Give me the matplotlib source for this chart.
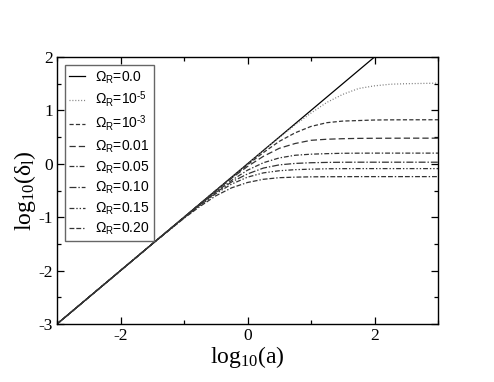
import matplotlib
matplotlib.use("Agg")
import matplotlib.pyplot as plt

plt.rcParams['mathtext.fontset'] = 'custom'
plt.rcParams['mathtext.rm'] = 'Liberation Serif'
plt.rcParams['mathtext.it'] = 'Liberation Serif:italic'
plt.rcParams['mathtext.sf'] = 'Liberation Sans'
plt.rcParams['axes.unicode_minus'] = False
plt.rcParams['lines.scale_dashes'] = False

# log10(a) sample points
log_a = [-3, -1.5, -1, -0.75, -0.5, -0.25, 0, 0.25, 0.5, 0.75, 1, 1.25, 1.5, 1.75, 2, 2.25, 2.5, 3]

# Omega_R = 0 : straight line
line_x = [-3, 3]
line_y = [-3, 3]

d_1e5 = [-3.00, -1.50, -1.00, -0.75, -0.50, -0.25, 0.00, 0.25, 0.49, 0.73, 0.95, 1.15, 1.30, 1.41, 1.46, 1.49, 1.50, 1.51]
d_1e3 = [-3.00, -1.50, -1.00, -0.75, -0.50, -0.26, -0.02, 0.21, 0.42, 0.58, 0.70, 0.77, 0.80, 0.81, 0.82, 0.823, 0.824, 0.825]
d_001 = [-3.00, -1.50, -1.00, -0.75, -0.51, -0.27, -0.05, 0.14, 0.29, 0.38, 0.44, 0.46, 0.47, 0.476, 0.478, 0.479, 0.48, 0.48]
d_005 = [-3.00, -1.50, -1.01, -0.76, -0.53, -0.31, -0.12, 0.02, 0.11, 0.16, 0.18, 0.19, 0.197, 0.199, 0.20, 0.20, 0.20, 0.20]
d_010 = [-3.00, -1.50, -1.01, -0.77, -0.54, -0.34, -0.19, -0.08, -0.02, 0.007, 0.02, 0.026, 0.029, 0.03, 0.03, 0.03, 0.03, 0.03]
d_015 = [-3.00, -1.50, -1.01, -0.78, -0.56, -0.38, -0.25, -0.17, -0.13, -0.11, -0.10, -0.093, -0.091, -0.09, -0.09, -0.09, -0.09, -0.09]
d_020 = [-3.00, -1.50, -1.02, -0.80, -0.60, -0.45, -0.35, -0.29, -0.26, -0.25, -0.244, -0.242, -0.241, -0.24, -0.24, -0.24, -0.24, -0.24]

labels = [r'$\mathsf{\Omega_R}$=0.0',
          r'$\mathsf{\Omega_R}$=10$^{\mathsf{\text{-}5}}$',
          r'$\mathsf{\Omega_R}$=10$^{\mathsf{\text{-}3}}$',
          r'$\mathsf{\Omega_R}$=0.01',
          r'$\mathsf{\Omega_R}$=0.05',
          r'$\mathsf{\Omega_R}$=0.10',
          r'$\mathsf{\Omega_R}$=0.15',
          r'$\mathsf{\Omega_R}$=0.20']

fig = plt.figure(figsize=(4.94, 3.82), dpi=100)
ax = fig.add_axes([57/494, 58/382, 381/494, 267/382])

ax.plot(line_x, line_y, color='black', lw=0.9, ls='-', label=labels[0])
ax.plot(log_a, d_1e5, color='#777777', lw=0.9, ls=(0, (0.7, 1.4)), label=labels[1])
ax.plot(log_a, d_1e3, color='#333333', lw=0.9, ls=(0, (3, 1.6)), label=labels[2])
ax.plot(log_a, d_001, color='#333333', lw=0.9, ls=(0, (4.5, 2.2)), label=labels[3])
ax.plot(log_a, d_005, color='#333333', lw=0.9, ls=(0, (3.5, 1.4, 1, 1.4)), label=labels[4])
ax.plot(log_a, d_010, color='#333333', lw=0.9, ls=(0, (5, 1.4, 1, 1.4)), label=labels[5])
ax.plot(log_a, d_015, color='#333333', lw=0.9, ls=(0, (3.5, 1.4, 1, 1.4, 1, 1.4)), label=labels[6])
ax.plot(log_a, d_020, color='#333333', lw=0.9, ls=(0, (3.5, 1.4, 3.5, 1.4, 1, 1.4)), label=labels[7])

ax.set_xlim(-3, 3)
ax.set_ylim(-3, 2)
ax.set_xticks([-2, 0, 2])
ax.set_xticks([-3, -1, 1, 3], minor=True)
ax.set_yticks([-3, -2, -1, 0, 1, 2])
ax.set_yticks([-2.5, -1.5, -0.5, 0.5, 1.5], minor=True)
ax.tick_params(which='both', direction='in', top=True, right=True, labelsize=12.5)
ax.tick_params(which='major', length=5, width=0.9, pad=3)
ax.tick_params(which='minor', length=3, width=0.9)
for lab in ax.get_xticklabels() + ax.get_yticklabels():
    lab.set_fontfamily('Liberation Serif')
for s in ax.spines.values():
    s.set_linewidth(1.0)

ax.set_xlabel(r'$\mathrm{log_{10}(a)}$', fontsize=17, labelpad=0)
ax.set_ylabel(r'$\mathrm{log_{10}(\delta_l)}$', fontsize=17, labelpad=0)

leg = ax.legend(loc='upper left', bbox_to_anchor=(8/381, 1 - 8/267), borderaxespad=0,
                prop={'family': 'Liberation Sans', 'size': 10},
                fancybox=False, edgecolor='#666666', framealpha=1,
                handlelength=1.15, handletextpad=0.7, labelspacing=0.3,
                borderpad=0.3)
leg.get_frame().set_linewidth(1.0)

fig.savefig('out.png', dpi=100)
